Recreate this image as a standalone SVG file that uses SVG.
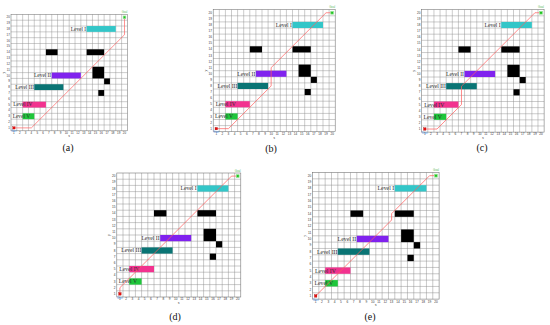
<svg xmlns="http://www.w3.org/2000/svg" xmlns:xlink="http://www.w3.org/1999/xlink" width="550" height="325" viewBox="0 0 550 325">
<style>
.grid{fill:none;stroke:#8c8c8c;stroke-width:0.075}
.box{fill:none;stroke:#6e6e6e;stroke-width:0.09}
.blk{fill:#000}
.l1{fill:#33c6c8}.l2{fill:#8022ee}.l3{fill:#0a7474}.l4{fill:#f2328f}.l5{fill:#1ec63a}
.lab{font-family:"Liberation Serif",serif;font-size:0.92px;fill:#2a2a2a}
.tk{font-family:"Liberation Sans",sans-serif;font-size:0.5px;fill:#333}
.tx{text-anchor:middle}.ty{text-anchor:end}
.ax{font-family:"Liberation Serif",serif;font-size:0.6px;fill:#333;text-anchor:middle}
.route{fill:none;stroke:#ff5e5e;stroke-width:0.13;stroke-linejoin:round;opacity:0.9}
.st{fill:#e8100f;stroke:#a00000;stroke-width:0.05}
.gl{fill:#1fc41f;stroke:#9be69b;stroke-width:0.12}
.stt{font-family:"Liberation Sans",sans-serif;font-size:0.45px;fill:#4a90e2;text-anchor:middle}
.glt{font-family:"Liberation Sans",sans-serif;font-size:0.45px;fill:#5cb85c;text-anchor:middle}
.cap{font-family:"Liberation Serif",serif;font-size:10px;fill:#111;text-anchor:middle}
</style>
<defs>
<g id="base">
<rect x="0" y="0" width="20" height="20" fill="#fff"/>
<path class="grid" d="M1 0V20M2 0V20M3 0V20M4 0V20M5 0V20M6 0V20M7 0V20M8 0V20M9 0V20M10 0V20M11 0V20M12 0V20M13 0V20M14 0V20M15 0V20M16 0V20M17 0V20M18 0V20M19 0V20M0 1H20M0 2H20M0 3H20M0 4H20M0 5H20M0 6H20M0 7H20M0 8H20M0 9H20M0 10H20M0 11H20M0 12H20M0 13H20M0 14H20M0 15H20M0 16H20M0 17H20M0 18H20M0 19H20"/>
<rect class="box" x="0" y="0" width="20" height="20"/>
<g id="obstacles">
<rect class="l1" x="13" y="2" width="5" height="1"/>
<rect class="blk" x="6" y="6" width="2" height="1"/>
<rect class="blk" x="13" y="6" width="3" height="1"/>
<rect class="l2" x="7" y="10" width="5" height="1"/>
<rect class="blk" x="14" y="9" width="2" height="2"/>
<rect class="blk" x="16" y="11" width="1" height="1"/>
<rect class="l3" x="4" y="12" width="5" height="1"/>
<rect class="blk" x="15" y="13" width="1" height="1"/>
<rect class="l4" x="2" y="15" width="4" height="1"/>
<rect class="l5" x="2" y="17" width="2" height="1"/>
</g>
<g id="levels">
<text class="lab" x="12.9" y="2.82" text-anchor="end">Level I</text>
<text class="lab" x="6.9" y="10.82" text-anchor="end">Level II</text>
<text class="lab" x="3.95" y="12.82" text-anchor="end">Level III</text>
<text class="lab" x="0.4" y="15.82">Level IV</text>
<text class="lab" x="0.3" y="17.82">Level V</text>
</g>
<g class="tk tx">
<text x="0.5" y="20.55">1</text><text x="1.5" y="20.55">2</text><text x="2.5" y="20.55">3</text><text x="3.5" y="20.55">4</text><text x="4.5" y="20.55">5</text><text x="5.5" y="20.55">6</text><text x="6.5" y="20.55">7</text><text x="7.5" y="20.55">8</text><text x="8.5" y="20.55">9</text><text x="9.5" y="20.55">10</text><text x="10.5" y="20.55">11</text><text x="11.5" y="20.55">12</text><text x="12.5" y="20.55">13</text><text x="13.5" y="20.55">14</text><text x="14.5" y="20.55">15</text><text x="15.5" y="20.55">16</text><text x="16.5" y="20.55">17</text><text x="17.5" y="20.55">18</text><text x="18.5" y="20.55">19</text><text x="19.5" y="20.55">20</text>
</g>
<g class="tk ty">
<text x="-0.2" y="19.68">1</text><text x="-0.2" y="18.68">2</text><text x="-0.2" y="17.68">3</text><text x="-0.2" y="16.68">4</text><text x="-0.2" y="15.68">5</text><text x="-0.2" y="14.68">6</text><text x="-0.2" y="13.68">7</text><text x="-0.2" y="12.68">8</text><text x="-0.2" y="11.68">9</text><text x="-0.2" y="10.68">10</text><text x="-0.2" y="9.68">11</text><text x="-0.2" y="8.68">12</text><text x="-0.2" y="7.68">13</text><text x="-0.2" y="6.68">14</text><text x="-0.2" y="5.68">15</text><text x="-0.2" y="4.68">16</text><text x="-0.2" y="3.68">17</text><text x="-0.2" y="2.68">18</text><text x="-0.2" y="1.68">19</text><text x="-0.2" y="0.68">20</text>
</g>
<text class="ax" x="10" y="21.15">x</text>
<text class="ax" x="0" y="0" transform="translate(-1.05 10) rotate(-90)">y</text>
</g>
<g id="marks">
<rect class="st" x="0.3" y="19.3" width="0.4" height="0.4"/>
<text class="stt" x="0.5" y="20.25">Start</text>
<rect class="gl" x="19.27" y="0.27" width="0.46" height="0.46"/>
<text class="glt" x="19.5" y="-0.2">Goal</text>
</g>
</defs>

<g id="panel-a" transform="translate(11 14.4) scale(5.82)">
<use xlink:href="#base" href="#base"/>
<g class="connectors"><path class="route" d="M0.5 19.5H3.5L19.5 3.5V0.5"/></g>
<use xlink:href="#marks" href="#marks"/>
</g>
<g id="panel-b" transform="translate(213.2 9.7) scale(6.1)">
<use xlink:href="#base" href="#base"/>
<g class="connectors"><path class="route" d="M0.5 19.5H2.5L9.5 12.5V9.5L18.5 0.5H19.5"/></g>
<use xlink:href="#marks" href="#marks"/>
</g>
<g id="panel-c" transform="translate(421.7 9.7) scale(6.12)">
<use xlink:href="#base" href="#base"/>
<g class="connectors"><path class="route" d="M0.5 19.5H2.5L6.5 15.5V12.5L18.5 0.5H19.5"/></g>
<use xlink:href="#marks" href="#marks"/>
</g>
<g id="panel-d" transform="translate(116.8 173) scale(6.2)">
<use xlink:href="#base" href="#base"/>
<g class="connectors"><path class="route" d="M0.5 19.5V18.5L18.5 0.5H19.5"/></g>
<use xlink:href="#marks" href="#marks"/>
</g>
<g id="panel-e" transform="translate(312.5 172.5) scale(6.33)">
<use xlink:href="#base" href="#base"/>
<g class="connectors"><path class="route" d="M0.5 19.5L12.5 7.5V6.5L18.5 0.5H19.5"/></g>
<use xlink:href="#marks" href="#marks"/>
</g>

<g id="captions">
<text class="cap" x="68" y="151">(a)</text>
<text class="cap" x="271" y="152">(b)</text>
<text class="cap" x="482" y="151">(c)</text>
<text class="cap" x="175" y="320">(d)</text>
<text class="cap" x="370" y="320">(e)</text>
</g>
</svg>
